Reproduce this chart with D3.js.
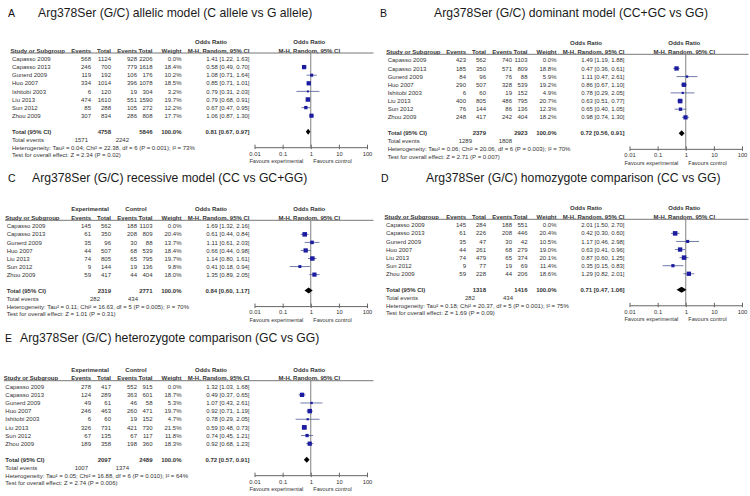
<!DOCTYPE html>
<html>
<head>
<meta charset="utf-8">
<script src="https://cdn.jsdelivr.net/npm/d3@7"></script>
<style>
body { margin: 0; background: #fff; }
svg { display: block; font-family: "Liberation Sans", Arial, sans-serif; }
</style>
</head>
<body>
<svg id="chart" width="750" height="496"></svg>
<script>
const studies8 = ['Capasso 2009', 'Capasso 2013', 'Gunerd 2009', 'Huo 2007', 'Ishitobi 2003', 'Liu 2013', 'Sun 2012', 'Zhou 2009']
const studies7 = ['Capasso 2009', 'Capasso 2013', 'Gunerd 2009', 'Huo 2007', 'Liu 2013', 'Sun 2012', 'Zhou 2009']

// rows: [events exp, total exp, events ctrl, total ctrl, weight %, OR, lower, upper]
const allelicRows = [
    [568, 1124, 928, 2206, 0.0, 1.41, 1.22, 1.63],
    [246, 700, 779, 1618, 18.4, 0.58, 0.49, 0.70],
    [119, 192, 106, 176, 10.2, 1.08, 0.71, 1.64],
    [334, 1014, 396, 1078, 18.5, 0.85, 0.71, 1.01],
    [6, 120, 19, 304, 3.2, 0.79, 0.31, 2.03],
    [474, 1610, 551, 1590, 19.7, 0.79, 0.68, 0.91],
    [85, 288, 105, 272, 12.2, 0.67, 0.47, 0.95],
    [307, 834, 286, 808, 17.7, 1.06, 0.87, 1.30]
]
const allelicTotal = [4758, 5846, 100.0, 0.81, 0.67, 0.97]
const allelicEvents = [1571, 2242]
const allelicStats = ['Heterogeneity: Tau² = 0.04; Chi² = 22.38, df = 6 (P = 0.001); I² = 73%', 'Test for overall effect: Z = 2.34 (P = 0.02)']

const dominantRows = [
    [423, 562, 740, 1103, 0.0, 1.49, 1.19, 1.88],
    [185, 350, 571, 809, 18.8, 0.47, 0.36, 0.61],
    [84, 96, 76, 88, 5.9, 1.11, 0.47, 2.61],
    [290, 507, 328, 539, 19.2, 0.86, 0.67, 1.10],
    [6, 60, 19, 152, 4.9, 0.78, 0.29, 2.05],
    [400, 805, 486, 795, 20.7, 0.63, 0.51, 0.77],
    [76, 144, 86, 136, 12.3, 0.65, 0.40, 1.05],
    [248, 417, 242, 404, 18.2, 0.98, 0.74, 1.30]
]
const dominantTotal = [2379, 2923, 100.0, 0.72, 0.56, 0.91]
const dominantEvents = [1289, 1808]
const dominantStats = ['Heterogeneity: Tau² = 0.06; Chi² = 20.06, df = 6 (P = 0.003); I² = 70%', 'Test for overall effect: Z = 2.71 (P = 0.007)']

const recessiveRows = [
    [145, 562, 188, 1103, 0.0, 1.69, 1.32, 2.16],
    [61, 350, 208, 809, 20.4, 0.61, 0.44, 0.84],
    [35, 96, 30, 88, 13.7, 1.11, 0.61, 2.03],
    [44, 507, 68, 539, 18.4, 0.66, 0.44, 0.98],
    [74, 805, 65, 795, 19.7, 1.14, 0.80, 1.61],
    [9, 144, 19, 136, 9.8, 0.41, 0.18, 0.94],
    [59, 417, 44, 404, 18.0, 1.35, 0.89, 2.05]
]
const recessiveTotal = [2319, 2771, 100.0, 0.84, 0.60, 1.17]
const recessiveEvents = [282, 434]
const recessiveStats = ['Heterogeneity: Tau² = 0.11; Chi² = 16.63, df = 5 (P = 0.005); I² = 70%', 'Test for overall effect: Z = 1.01 (P = 0.31)']

const homozygoteRows = [
    [145, 284, 188, 551, 0.0, 2.01, 1.50, 2.70],
    [61, 226, 208, 446, 20.4, 0.42, 0.30, 0.60],
    [35, 47, 30, 42, 10.5, 1.17, 0.46, 2.98],
    [44, 261, 68, 279, 19.0, 0.63, 0.41, 0.96],
    [74, 479, 65, 374, 20.1, 0.87, 0.60, 1.25],
    [9, 77, 19, 69, 11.4, 0.35, 0.15, 0.83],
    [59, 228, 44, 206, 18.6, 1.29, 0.82, 2.01]
]
const homozygoteTotal = [1318, 1416, 100.0, 0.71, 0.47, 1.06]
const homozygoteEvents = [282, 434]
const homozygoteStats = ['Heterogeneity: Tau² = 0.18; Chi² = 20.37, df = 5 (P = 0.001); I² = 75%', 'Test for overall effect: Z = 1.69 (P = 0.09)']

const heterozygoteRows = [
    [278, 417, 552, 915, 0.0, 1.32, 1.03, 1.68],
    [124, 289, 363, 601, 18.7, 0.49, 0.37, 0.65],
    [49, 61, 46, 58, 5.3, 1.07, 0.43, 2.61],
    [246, 463, 260, 471, 19.7, 0.92, 0.71, 1.19],
    [6, 60, 19, 152, 4.7, 0.78, 0.29, 2.05],
    [326, 731, 421, 730, 21.5, 0.59, 0.48, 0.73],
    [67, 135, 67, 117, 11.8, 0.74, 0.45, 1.21],
    [189, 358, 198, 360, 18.3, 0.92, 0.68, 1.23]
]
const heterozygoteTotal = [2097, 2489, 100.0, 0.72, 0.57, 0.91]
const heterozygoteEvents = [1007, 1374]
const heterozygoteStats = ['Heterogeneity: Tau² = 0.05; Chi² = 16.88, df = 6 (P = 0.010); I² = 64%', 'Test for overall effect: Z = 2.74 (P = 0.006)']

const letters = ['A', 'B', 'C', 'D', 'E']
const titles = [
    'Arg378Ser (G/C) allelic model (C allele vs G allele)',
    'Arg378Ser (G/C) dominant model (CC+GC vs GG)',
    'Arg378Ser (G/C) recessive model (CC vs GC+GG)',
    'Arg378Ser (G/C) homozygote comparison (CC vs GG)',
    'Arg378Ser (G/C) heterozygote comparison (GC vs GG)'
]
const tickValues = [0.01, 0.1, 1, 10, 100]
const tickLabels = ['0.01', '0.1', '1', '10', '100']

const svg = d3.select('#chart')
const f2 = d3.format('.2f')
const f1 = d3.format('.1f')
const ink = '#333'

// column right edges, relative to panel
const col = { evE: 91, totE: 111, evC: 137, totC: 152.5, weight: 181.5, or: 249.5 }

const txt = (g, x, y, s, size, anchor, bold, fill) =>
    g.append('text')
        .attr('x', x)
        .attr('y', y)
        .attr('dy', '0.35em')
        .attr('font-size', size)
        .attr('text-anchor', anchor || 'start')
        .attr('font-weight', bold ? 'bold' : 'normal')
        .attr('fill', fill || ink)
        .text(s)

const drawPanel = (p, letter, title, names, rows, total, events, stats) => {
    const g = svg.append('g').attr('transform', `translate(${p.x0},0)`)
    const x = d3.scaleLog().domain([0.01, 100]).range([254.5, 367])
    const rowY = i => p.row0 + i * p.step
    const totalY = rowY(rows.length - 1) + 16
    const axisY = totalY + 15.5
    const headY = p.row0 - 8.5
    const topY = p.row0 - 17
    const lineY = p.row0 - 6
    const fs = 6

    // title
    g.append('text').attr('x', p.letterX).attr('y', p.titleY)
        .attr('font-size', 10.5).attr('fill', '#111').text(letter)
    g.append('text').attr('x', p.titleX).attr('y', p.titleY)
        .attr('font-size', 12.2).attr('fill', '#1a1a1a').text(title)

    // header
    if (p.group) {
        txt(g, 90, topY, 'Experimental', fs, 'middle', true)
        txt(g, 136, topY, 'Control', fs, 'middle', true)
    }
    txt(g, 211, topY, 'Odds Ratio', fs, 'middle', true)
    txt(g, x(1) - 1.5, topY, 'Odds Ratio', fs, 'middle', true)
    txt(g, p.studyX - 1.5, headY, 'Study or Subgroup', fs, 'start', true)
    txt(g, col.evE, headY, 'Events', fs, 'end', true)
    txt(g, col.totE, headY, 'Total', fs, 'end', true)
    txt(g, col.evC, headY, 'Events', fs, 'end', true)
    txt(g, col.totC, headY, 'Total', fs, 'end', true)
    txt(g, col.weight, headY, 'Weight', fs, 'end', true)
    txt(g, col.or, headY, 'M-H, Random, 95% CI', fs, 'end', true)
    txt(g, x(1) - 1.5, headY, 'M-H, Random, 95% CI', fs, 'middle', true)

    g.append('line')
        .attr('x1', p.studyX - 1.5).attr('x2', 373.5)
        .attr('y1', lineY).attr('y2', lineY)
        .attr('stroke', '#777').attr('stroke-width', 1)

    // study rows
    rows.forEach((r, i) => {
        const y = rowY(i)
        txt(g, p.studyX, y, names[i], fs)
        txt(g, col.evE, y, r[0], fs, 'end')
        txt(g, col.totE, y, r[1], fs, 'end')
        txt(g, col.evC, y, r[2], fs, 'end')
        txt(g, col.totC, y, r[3], fs, 'end')
        txt(g, col.weight, y, f1(r[4]) + '%', fs, 'end')
        txt(g, col.or, y, `${f2(r[5])} [${f2(r[6])}, ${f2(r[7])}]`, fs, 'end')
    })

    // totals
    txt(g, p.studyX, totalY, 'Total (95% CI)', fs, 'start', true)
    txt(g, col.totE, totalY, total[0], fs, 'end', true)
    txt(g, col.totC, totalY, total[1], fs, 'end', true)
    txt(g, col.weight, totalY, f1(total[2]) + '%', fs, 'end', true)
    txt(g, col.or, totalY, `${f2(total[3])} [${f2(total[4])}, ${f2(total[5])}]`, fs, 'end', true)
    txt(g, p.studyX, totalY + 8, 'Total events', fs)
    txt(g, p.totEv[0], totalY + 8, events[0], fs, 'end')
    txt(g, p.totEv[1], totalY + 8, events[1], fs, 'end')
    txt(g, p.studyX, totalY + 15.8, stats[0], fs)
    txt(g, p.studyX, totalY + 23.6, stats[1], fs)

    // plot
    g.append('line')
        .attr('x1', x(1)).attr('x2', x(1))
        .attr('y1', lineY).attr('y2', axisY)
        .attr('stroke', '#808080').attr('stroke-width', 1)

    const axis = g.append('g')
        .attr('transform', `translate(0,${axisY})`)
        .call(d3.axisBottom(x).tickValues(tickValues).tickFormat((d, i) => tickLabels[i]).tickSizeOuter(0))
    axis.select('.domain').attr('stroke', '#666')
    axis.selectAll('.tick line').attr('y1', -2.5).attr('y2', 2).attr('stroke', '#666')
    axis.selectAll('.tick text').attr('y', 6.3).attr('dy', '0.35em')
        .attr('font-size', 5.8).attr('font-family', null).attr('fill', ink)

    txt(g, x(1) - 7.5, axisY + 14, 'Favours experimental', 5.6, 'end')
    txt(g, x(1) + 2.5, axisY + 14, 'Favours control', 5.6, 'start')

    const shown = rows.map((r, i) => ({ r, i })).filter(d => d.r[4] > 0)
    g.append('g').selectAll('line')
        .data(shown)
        .join('line')
        .attr('x1', d => x(d.r[6])).attr('x2', d => x(d.r[7]))
        .attr('y1', d => rowY(d.i)).attr('y2', d => rowY(d.i))
        .attr('stroke', '#4d5a96').attr('stroke-width', 0.8)
    g.append('g').selectAll('rect')
        .data(shown)
        .join('rect')
        .attr('x', d => x(d.r[5]) - (1.5 + 0.15 * d.r[4]) / 2)
        .attr('y', d => rowY(d.i) - (1.5 + 0.15 * d.r[4]) / 2)
        .attr('width', d => 1.5 + 0.15 * d.r[4])
        .attr('height', d => 1.5 + 0.15 * d.r[4])
        .attr('fill', '#1c1ca0')

    const dh = 3
    g.append('path')
        .attr('d', `M${x(total[4])},${totalY}L${x(total[3])},${totalY - dh}L${x(total[5])},${totalY}L${x(total[3])},${totalY + dh}Z`)
        .attr('fill', '#000')
}

const panels = [
    { x0: 0, letterX: 8, titleX: 38, titleY: 16.5, row0: 59, step: 8.1, studyX: 12, group: false, totEv: [88, 129] },
    { x0: 375, letterX: 5, titleX: 59, titleY: 17.3, row0: 60.3, step: 8.15, studyX: 12.7, group: false, totEv: [97, 137] },
    { x0: 0, letterX: 8, titleX: 32, titleY: 182, row0: 226.3, step: 8.05, studyX: 6.7, group: true, totEv: [100, 138] },
    { x0: 375, letterX: 6, titleX: 51, titleY: 181.7, row0: 225.3, step: 8.08, studyX: 11, group: false, totEv: [100, 138] },
    { x0: 0, letterX: 5, titleX: 20, titleY: 341.7, row0: 386.7, step: 8.14, studyX: 5.3, group: true, totEv: [88, 129] }
]

drawPanel(panels[0], letters[0], titles[0], studies8, allelicRows, allelicTotal, allelicEvents, allelicStats)
drawPanel(panels[1], letters[1], titles[1], studies8, dominantRows, dominantTotal, dominantEvents, dominantStats)
drawPanel(panels[2], letters[2], titles[2], studies7, recessiveRows, recessiveTotal, recessiveEvents, recessiveStats)
drawPanel(panels[3], letters[3], titles[3], studies7, homozygoteRows, homozygoteTotal, homozygoteEvents, homozygoteStats)
drawPanel(panels[4], letters[4], titles[4], studies8, heterozygoteRows, heterozygoteTotal, heterozygoteEvents, heterozygoteStats)
</script>
</body>
</html>
